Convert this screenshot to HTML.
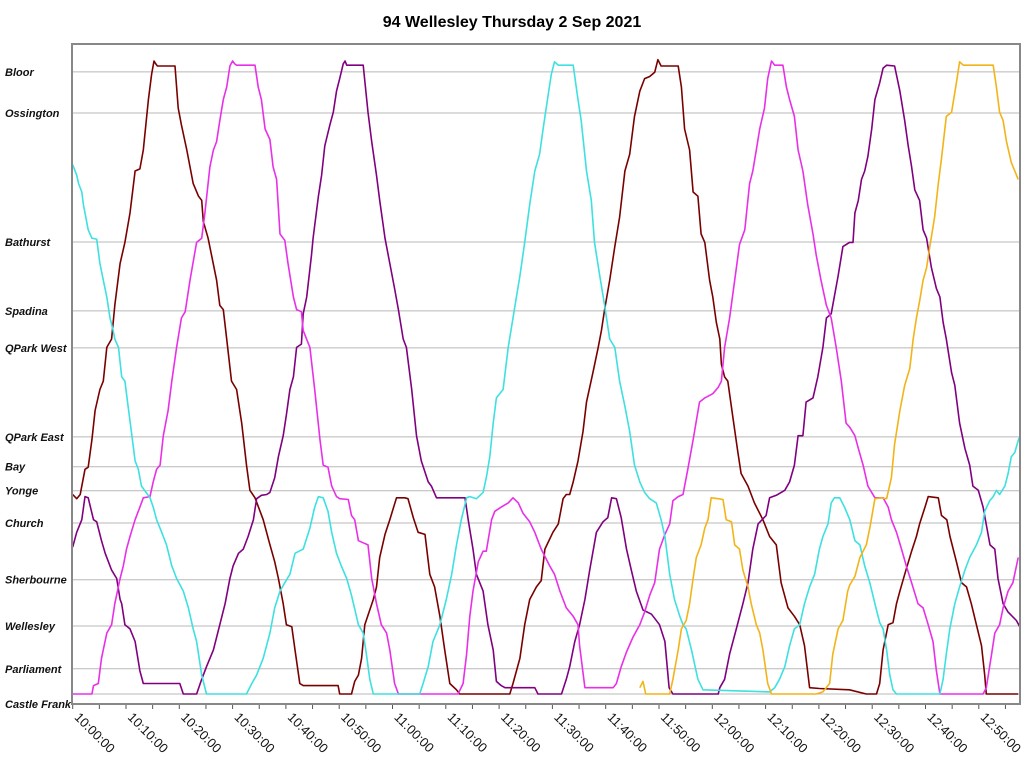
<!DOCTYPE html>
<html><head><meta charset="utf-8"><style>
html,body{margin:0;padding:0;background:#fff;}
svg{display:block;font-family:"Liberation Sans",Arial,sans-serif;}
</style></head><body>
<svg id="chart" width="1024" height="760" viewBox="0 0 1024 760">
<text x="512" y="27" text-anchor="middle" font-size="16" font-weight="bold" fill="#000">94 Wellesley Thursday 2 Sep 2021</text>
<g id="grid"></g>
<g id="ylabels"></g>
<g id="xaxis"></g>
<g id="series"></g>
<rect x="72" y="44" width="948" height="660" fill="none" stroke="#888" stroke-width="2"/>
</svg>
<script>
const stationNames = ["Castle Frank","Parliament","Wellesley","Sherbourne","Church","Yonge","Bay","QPark East","QPark West","Spadina","Bathurst","Ossington","Bloor"];
const stationPos = [0,60,162,272,407,484,541,612,824,912,1076,1383,1481];
const tickLabels = ["10:00:00","10:10:00","10:20:00","10:30:00","10:40:00","10:50:00","11:00:00","11:10:00","11:20:00","11:30:00","11:40:00","11:50:00","12:00:00","12:10:00","12:20:00","12:30:00","12:40:00","12:50:00"];
const tickMinutes = [0,10,20,30,40,50,60,70,80,90,100,110,120,130,140,150,160,170];
const seriesColors = ["#7a0000","#800080","#e830e8","#3ee0e0","#f2b418"];
const seriesNames = ["vehicle-brown","vehicle-purple","vehicle-magenta","vehicle-cyan","vehicle-gold"];
// [minutes after 10:00, position along route]
const brownTimes = [0,0.75,1.4,2.3,2.9,3.6,4.2,5.1,5.75,6.4,7.3,7.9,8.9,9.8,10.75,11.7,12.6,13.25,14.2,14.8,15.25,15.6,15.9,19.2,19.8,20.4,21.4,22.6,23.6,24.2,24.5,25.4,27.0,27.6,28.25,28.9,29.8,30.75,31.7,32.6,33.25,34.2,35.75,36.9,37.9,38.6,39.5,40.1,41.1,41.7,42.6,43.25,49.8,50.1,52.3,52.9,53.6,54.2,54.8,56.4,57.0,57.6,58.6,59.5,60.75,62.3,62.9,63.9,64.8,66.1,67.0,67.9,68.9,69.8,70.75,72.0,72.6,82.0,82.6,83.9,84.8,85.75,87.0,87.9,88.6,90.1,91.1,92.0,92.6,93.25,93.9,94.8,95.75,96.4,97.6,98.6,99.2,99.8,100.75,101.7,102.6,103.6,104.5,105.4,106.4,107.3,108.25,109.2,109.8,110.4,113.6,114.2,114.8,115.75,116.4,117.3,117.9,118.6,119.5,120.1,120.75,121.4,121.7,122.3,122.9,123.9,124.8,125.4,126.7,127.9,129.5,130.75,132.0,132.9,134.2,135.4,136.4,137.3,138.25,140.1,145.75,148.9,150.8,151.4,152.05,153.0,153.9,154.55,155.2,156.1,157.4,158.3,158.9,159.9,160.5,162.4,163.0,164.0,164.6,165.8,166.75,167.7,168.6,169.55,170.5,171.1,171.4,177.4];
const brownPos = [475,465,475,535,540,605,675,725,745,825,845,925,1025,1075,1145,1245,1250,1295,1415,1475,1507,1500,1495,1495,1395,1355,1295,1215,1185,1175,1125,1085,985,925,915,845,745,725,645,545,485,467,415,360,315,275,215,165,160,105,25,20,20,0,0,30,45,85,165,225,255,325,380,415,467,467,465,420,385,380,285,255,185,105,25,10,0,0,25,85,165,225,255,270,345,385,405,465,475,475,505,555,625,695,765,825,865,915,985,1065,1135,1245,1285,1375,1435,1465,1470,1480,1510,1495,1495,1445,1345,1295,1195,1185,1095,1075,985,945,885,845,785,755,745,655,575,525,495,455,415,375,355,265,205,185,165,115,15,13,10,0,0,25,105,165,170,215,245,285,340,375,405,445,470,467,425,415,375,315,265,255,215,165,115,45,0,0];
const purpleTimes = [0,0.75,1.7,2.3,2.9,3.9,4.5,5.4,6.1,7.3,8.25,8.9,9.2,9.8,10.75,11.7,12.6,13.25,20.1,20.75,23.25,24.2,25.1,26.4,27.6,28.6,29.5,30.1,31.1,32.0,32.9,33.9,34.5,35.4,36.4,37.0,37.9,38.6,39.5,40.1,40.75,41.4,42.0,42.9,43.25,43.9,44.8,45.1,46.1,46.7,47.3,48.25,48.9,49.5,50.1,50.75,51.1,51.4,54.5,55.4,56.1,57.0,57.6,58.6,59.5,60.4,61.1,62.0,62.6,63.6,64.5,65.4,66.7,67.3,68.25,73.6,74.2,75.1,75.75,77.0,77.9,78.9,79.5,80.4,81.1,86.7,87.3,91.7,92.6,93.25,94.2,95.1,96.1,97.0,98.25,99.5,100.4,101.1,102.0,102.9,103.9,104.8,105.75,107.0,108.6,110.1,111.1,111.9,112.6,121.1,121.4,122.3,123.25,124.5,125.75,126.7,127.6,128.6,130.1,130.75,132.0,133.6,134.5,135.4,136.1,137.0,137.6,138.9,139.8,140.75,141.4,142.3,143.6,144.5,145.75,146.4,146.75,147.4,148.0,148.6,149.2,149.9,150.5,151.4,152.05,152.7,154.2,155.2,156.1,156.75,157.4,158.0,158.9,159.55,160.2,161.1,162.05,162.7,163.3,163.9,164.9,165.5,166.4,167.4,168.3,168.9,169.9,170.8,172.1,173.0,173.6,174.55,175.5,177.05,177.7];
const purplePos = [350,385,415,470,467,415,410,365,335,295,275,225,215,165,155,125,55,25,25,0,0,35,65,105,165,215,275,305,335,345,375,415,465,473,475,480,515,565,615,665,725,755,825,833,905,945,1045,1085,1185,1235,1305,1355,1385,1435,1465,1500,1507,1497,1497,1385,1315,1235,1175,1085,1025,965,915,845,825,725,615,555,505,495,467,467,415,345,285,245,165,105,30,20,15,15,0,0,35,65,125,165,225,295,385,410,420,467,465,420,345,295,245,200,190,165,125,15,0,0,15,35,95,155,215,265,345,405,425,467,473,485,505,545,615,615,695,705,755,825,895,905,995,1065,1075,1075,1145,1175,1225,1245,1280,1345,1415,1455,1490,1497,1495,1435,1365,1305,1255,1200,1175,1105,1085,1015,965,945,885,845,765,735,645,585,545,495,485,445,355,345,275,215,195,175,160];
const magentaTimes = [0,3.6,3.9,4.8,5.4,6.4,7.3,7.9,8.9,9.5,10.1,10.75,11.7,12.6,13.25,14.5,15.1,15.75,16.4,17.0,17.9,18.6,19.5,20.4,21.1,22.0,23.25,24.2,24.8,25.75,26.4,27.0,27.6,28.25,28.9,29.5,30.0,30.4,30.75,34.2,34.8,35.4,36.1,37.0,37.6,38.25,38.9,39.8,40.4,41.4,42.0,42.9,43.25,44.5,45.4,46.4,47.0,47.9,48.6,49.5,50.1,51.7,52.3,52.9,53.6,54.5,55.4,56.1,57.0,57.9,58.9,59.5,60.4,61.1,72.3,73.25,73.9,74.5,75.1,76.1,77.0,77.6,78.6,79.2,80.4,81.7,82.6,83.6,84.5,85.75,86.7,87.9,89.5,90.4,91.4,92.6,93.9,94.8,95.1,96.1,101.4,102.0,102.9,103.9,105.1,106.4,107.3,108.25,109.2,110.1,111.1,112.0,112.6,113.6,114.5,115.4,116.4,117.6,118.6,120.1,121.1,121.7,122.3,123.25,124.2,125.1,126.1,127.0,127.6,128.25,128.9,129.8,130.4,131.1,131.7,133.25,133.9,134.5,135.4,136.1,137.0,137.9,138.9,139.5,140.4,141.4,142.3,143.25,144.2,145.1,145.8,146.75,147.4,148.3,149.2,150.5,152.05,153.0,153.6,154.55,155.5,156.4,157.4,158.6,159.55,160.5,161.4,162.05,162.7,170.8,171.4,172.4,173.0,173.9,174.55,175.5,176.4,177.4];
const magentaPos = [0,0,20,25,85,145,165,215,275,305,345,375,415,445,467,470,505,535,545,615,675,745,825,895,910,985,1075,1085,1145,1255,1295,1315,1365,1415,1445,1495,1507,1500,1497,1497,1445,1415,1345,1320,1255,1225,1095,1080,1025,945,915,910,865,825,725,605,545,540,495,470,465,463,425,415,365,360,355,275,215,165,145,105,25,0,0,25,95,185,245,315,340,340,415,435,445,455,467,455,430,410,385,345,305,285,245,205,185,165,115,15,15,25,65,100,135,165,195,235,265,345,380,405,460,470,475,535,605,695,705,715,730,745,825,895,985,1070,1105,1215,1245,1295,1345,1395,1465,1507,1497,1497,1445,1415,1375,1295,1245,1165,1095,1045,985,925,895,825,745,645,635,615,585,545,495,467,467,445,415,385,345,305,265,215,205,165,125,55,0,0,15,95,145,165,205,245,265,325];
const cyanTimes = [0,0.75,1.1,1.7,2.0,2.9,3.6,4.5,5.1,5.75,6.4,7.0,7.6,7.9,8.6,9.2,9.8,10.4,11.1,11.7,12.3,12.9,14.5,15.1,15.75,16.7,17.6,18.6,19.5,20.75,21.7,22.6,23.25,24.2,25.1,32.6,33.6,34.5,35.75,37.0,37.9,38.9,39.8,40.75,41.7,43.25,44.5,45.4,46.1,47.0,47.9,48.6,49.5,50.4,51.4,52.3,53.6,54.5,55.1,55.75,56.4,65.1,65.75,66.7,67.6,68.9,70.1,71.1,72.0,72.9,73.9,74.5,75.75,77.0,77.6,78.25,78.9,79.5,80.75,81.7,82.6,83.25,83.9,84.8,85.75,86.7,87.6,88.25,89.2,89.8,90.4,91.1,93.9,94.8,95.4,96.4,97.3,97.9,98.9,99.8,100.75,101.7,102.6,103.6,104.5,105.4,106.4,107.3,108.25,109.5,110.4,111.1,112.0,112.9,113.9,114.5,115.1,116.1,117.3,118.25,130.75,131.7,132.6,133.6,134.5,135.4,136.4,137.3,138.25,139.2,140.1,140.75,141.7,142.3,142.9,143.9,144.8,145.8,146.75,147.7,148.6,149.55,150.5,151.4,152.05,152.7,153.3,153.9,154.55,162.7,163.3,163.9,164.55,165.5,166.4,167.4,168.3,169.55,170.5,171.1,172.05,172.7,173.3,173.9,174.9,175.5,176.1,176.75,177.55];
const cyanPos = [1260,1235,1215,1195,1165,1105,1085,1083,1025,985,945,895,865,845,825,755,745,685,615,555,535,495,467,445,415,385,355,305,275,245,205,155,125,45,0,0,25,45,85,145,205,245,265,285,335,345,395,445,470,467,435,385,335,305,275,235,165,145,95,35,0,0,25,65,125,165,225,285,355,415,467,470,465,480,515,565,645,705,725,825,895,945,995,1075,1165,1245,1285,1345,1425,1475,1505,1497,1497,1415,1365,1245,1175,1075,995,925,845,825,745,685,625,545,505,480,465,455,415,375,285,225,185,165,155,105,35,10,5,15,35,65,115,155,165,215,255,285,345,375,405,455,467,467,445,415,365,355,305,265,215,170,155,105,45,10,0,0,35,95,155,215,255,295,325,355,385,435,460,470,485,475,495,525,565,575,610];
const goldTimes = [106.4,107.0,107.5,112.0,112.6,113.6,114.2,115.1,115.75,116.4,117.0,117.9,118.6,119.2,119.8,121.1,122.0,122.6,123.6,124.2,125.1,125.75,126.7,127.3,128.25,128.9,129.5,130.4,131.1,139.5,140.75,142.0,142.6,143.6,144.5,145.4,145.8,146.75,147.7,148.9,149.55,150.5,151.7,152.7,153.6,154.2,155.2,156.1,157.05,157.7,158.3,158.9,159.55,160.2,160.8,161.7,162.4,163.0,163.9,164.9,165.8,166.4,167.1,172.7,173.3,173.9,174.55,175.2,176.1,176.75,177.4];
const goldPos = [15,30,0,0,35,105,155,175,215,275,325,355,395,415,467,465,463,415,410,355,345,295,255,215,165,145,105,25,0,0,5,25,95,155,175,245,260,280,325,355,395,465,467,465,515,595,675,735,775,845,895,935,985,1015,1065,1135,1215,1275,1375,1385,1455,1505,1497,1497,1445,1385,1365,1315,1265,1245,1225];
const allTimes = [brownTimes,purpleTimes,magentaTimes,cyanTimes,goldTimes];
const allPos = [brownPos,purplePos,magentaPos,cyanPos,goldPos];

const NS = "http://www.w3.org/2000/svg";
const X0 = 72.7, PXMIN = 5.33, Y0 = 694, PXPOS = 649/1545;
function xScale(t){ return X0 + t*PXMIN; }
function yScale(p){ return Y0 - p*PXPOS; }
function mk(tag, attrs){ const e = document.createElementNS(NS, tag); for (const k in attrs) e.setAttribute(k, attrs[k]); return e; }

const grid = document.getElementById('grid');
const yl = document.getElementById('ylabels');
stationNames.forEach((n,i)=>{
  const y = yScale(stationPos[i]);
  const ln = mk('line',{x1:72,x2:1020,y1:y,y2:y,stroke:'#b8b8b8','stroke-width':1});
  
  
  grid.appendChild(ln);
  const ty = (i===0) ? 708 : y+4;
  const t = mk('text',{x:5,y:ty,'font-size':11,'font-weight':'bold','font-style':'italic',fill:'#111'});
  t.textContent = n;
  
  
  yl.appendChild(t);
});

const xa = document.getElementById('xaxis');
for (let m=0; m<=175; m+=5){
  const x = xScale(m);
  const tk = mk('line',{x1:x,x2:x,y1:704,y2:709,stroke:'#555','stroke-width':1});
  
  
  xa.appendChild(tk);
}
tickLabels.forEach((lab,i)=>{
  const x = xScale(tickMinutes[i]);
  const t = mk('text',{x:x+1,y:718,'font-size':13,fill:'#111',transform:`rotate(45 ${x+1} 718)`});
  t.textContent = lab;
  
  
  xa.appendChild(t);
});

const sg = document.getElementById('series');
allTimes.forEach((ts,si)=>{
  const ps = allPos[si];
  const pts = ts.map((t,j)=> xScale(t).toFixed(1)+','+yScale(ps[j]).toFixed(1)).join(' ');
  const pl = mk('polyline',{points:pts,fill:'none',stroke:seriesColors[si],'stroke-width':1.6,'stroke-linejoin':'round'});
  
  
  sg.appendChild(pl);
});
</script>
</body></html>
